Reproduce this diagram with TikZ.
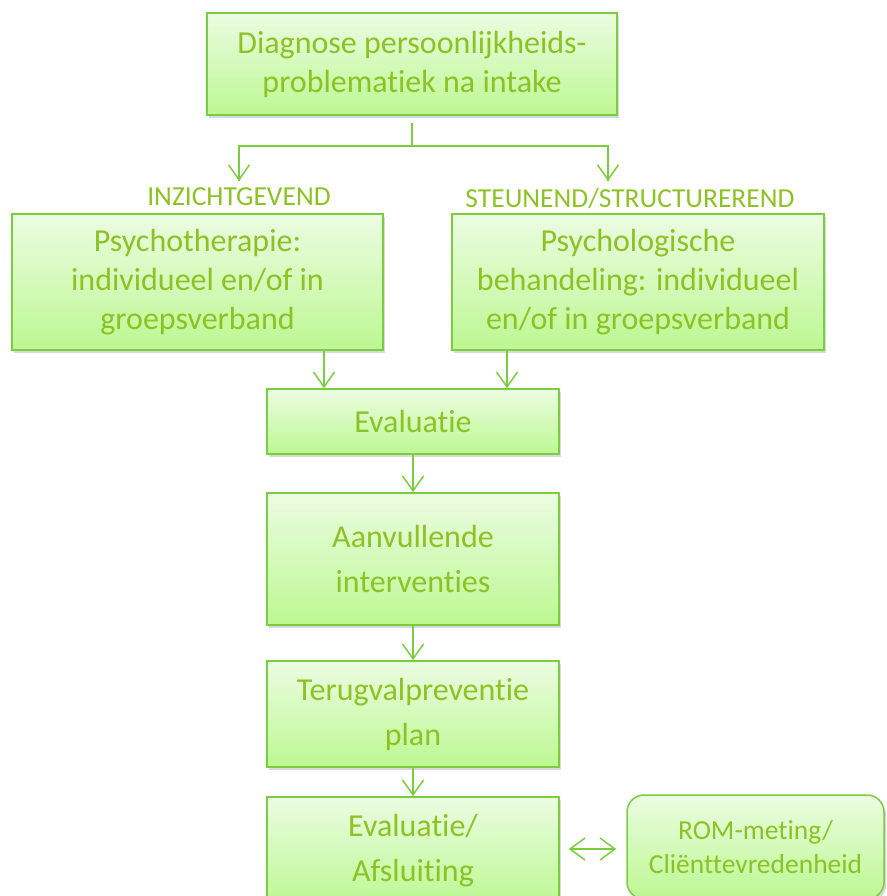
\documentclass[tikz,border=0pt]{standalone}
\usepackage{fontspec}
\setmainfont{Carlito}[Ligatures=NoCommon]
\usetikzlibrary{arrows.meta,shadows}

\definecolor{txtgreen}{RGB}{141,194,36}
\definecolor{lngreen}{RGB}{124,204,64}
\definecolor{filltop}{RGB}{236,252,226}
\definecolor{fillbot}{RGB}{188,248,146}

\begin{document}
\begin{tikzpicture}[x=1pt, y=-1pt,
	box/.style={draw=lngreen, line width=1.5pt, top color=filltop, bottom color=fillbot,
		text=txtgreen, align=center, inner sep=0pt,
		font=\fontsize{32}{39}\selectfont,
		drop shadow={opacity=0.3, shadow xshift=2pt, shadow yshift=-3pt}},
	wide/.style={font=\fontsize{32}{45}\selectfont},
	tag/.style={text=txtgreen, font=\fontsize{27.5}{30}\selectfont},
	arrow/.style={draw=lngreen, line width=1.5pt, -{Straight Barb[length=15pt, width=21pt]}},
	twoway/.style={draw=lngreen, line width=1.5pt,
		{Straight Barb[length=15pt, width=22pt]}-{Straight Barb[length=15pt, width=22pt]}},
	link/.style={draw=lngreen, line width=1.5pt}]
	\useasboundingbox (0,0) rectangle (886,896);

	\node [box, minimum width=410pt, minimum height=102pt] (diag) at (412,64)
		{Diagnose persoonlijkheids-\\problematiek na intake};

	\coordinate (split) at (412,146);
	\coordinate (tipL) at (239,181);
	\coordinate (tipR) at (608,181);
	\node [tag] (inz) at (239,197) {INZICHTGEVEND};
	\node [tag] (steun) at (630,199) {STEUNEND/STRUCTUREREND};

	\node [box, minimum width=371pt, minimum height=136pt] (psycho) at (197.5,282)
		{Psychotherapie:\\individueel en/of in\\groepsverband};
	\node [box, minimum width=372pt, minimum height=136pt] (psychol) at (638,282)
		{Psychologische\\behandeling: individueel\\en/of in groepsverband};

	\node [box, minimum width=292pt, minimum height=65pt] (eval) at (413,421.5) {Evaluatie};
	\node [box, wide, minimum width=292pt, minimum height=132pt] (aanv) at (413,559)
		{Aanvullende\\interventies};
	\node [box, wide, minimum width=292pt, minimum height=106pt] (terug) at (413,714)
		{Terugvalpreventie\\plan};
	\node [box, wide, minimum width=292pt, minimum height=108pt] (afsl) at (413,851)
		{Evaluatie/\\Afsluiting};
	\node [box, rounded corners=17pt, minimum width=257pt, minimum height=104pt,
		font=\fontsize{27.5}{34}\selectfont] (rom) at (755.5,847)
		{ROM-meting/\\Cliënttevredenheid};

	% splitsing onder de diagnose
	\draw [link, shorten <=7pt] (diag.south) -- (split);
	\draw [link] (split) -| (tipL);
	\draw [link] (split) -| (tipR);
	\draw [arrow] (tipL |- split) -- (tipL);
	\draw [arrow] (tipR |- split) -- (tipR);

	\draw [arrow] (psycho.south -| 324,0) -- (eval.north -| 324,0);
	\draw [arrow] (psychol.south -| 507,0) -- (eval.north -| 507,0);
	\draw [arrow] (eval) -- (aanv);
	\draw [arrow] (aanv) -- (terug);
	\draw [arrow] (terug) -- (afsl);
	\draw [twoway, shorten <=9pt, shorten >=10pt] (afsl.east |- 0,849) -- (rom.west |- 0,849);
\end{tikzpicture}
\end{document}
